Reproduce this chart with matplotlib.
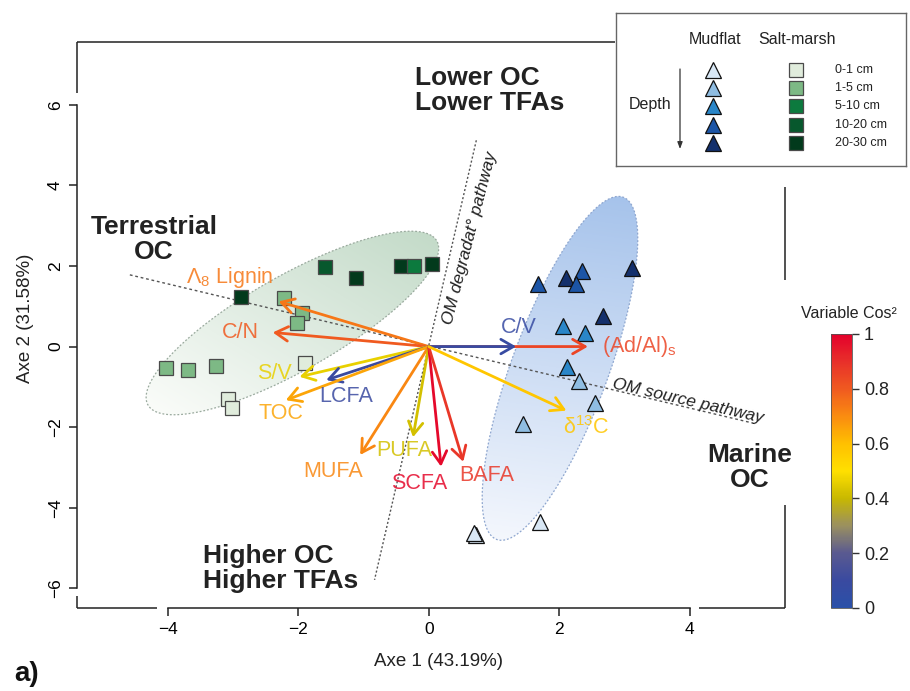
import numpy as np
import matplotlib
matplotlib.use("Agg")
import matplotlib.pyplot as plt
from matplotlib import font_manager
from matplotlib.colors import LinearSegmentedColormap, Normalize, to_rgb
from matplotlib.patches import Polygon, FancyArrowPatch
from matplotlib.cm import ScalarMappable

names = {f.name for f in font_manager.fontManager.ttflist}
narrow = "Liberation Sans Narrow" if "Liberation Sans Narrow" in names else "Liberation Sans"
plt.rcParams["font.family"] = ["Liberation Sans", "DejaVu Sans"]
plt.rcParams["mathtext.fontset"] = "custom"
plt.rcParams["mathtext.rm"] = "Liberation Sans"
plt.rcParams["mathtext.it"] = "Liberation Sans:italic"

# sample scores (mudflat = triangles, salt-marsh = squares), depth class index
depth_labels = ["0-1 cm", "1-5 cm", "5-10 cm", "10-20 cm", "20-30 cm"]
mud_x = [1.68, 2.10, 2.35, 2.26, 3.12, 2.67, 2.06, 2.39, 2.12, 2.31, 2.55, 1.44, 1.70, 0.73, 0.70]
mud_y = [1.55, 1.69, 1.88, 1.55, 1.94, 0.76, 0.52, 0.34, -0.50, -0.85, -1.41, -1.91, -4.35, -4.68, -4.64]
mud_depth = [3, 4, 3, 3, 4, 4, 2, 2, 2, 1, 1, 1, 0, 0, 0]
salt_x = [-2.87, -1.59, -1.12, -0.42, -0.23, 0.05, -2.22, -1.94, -2.02, -4.02, -3.69, -3.26, -1.90, -3.08, -3.02]
salt_y = [1.22, 1.98, 1.71, 2.00, 2.00, 2.06, 1.20, 0.84, 0.58, -0.53, -0.58, -0.48, -0.40, -1.29, -1.53]
salt_depth = [4, 3, 4, 4, 2, 4, 1, 1, 1, 1, 1, 1, 0, 0, 0]
mud_colors = ["#d8e7f5", "#8fbde2", "#2a86c8", "#1c55a6", "#14306c"]
salt_colors = ["#e0ecdc", "#7db985", "#0c7a3e", "#07582d", "#023a1c"]

# variable loadings, their cos2 and label positions
var_names = [r"$\mathregular{\Lambda_8}$ Lignin", "C/N", "S/V", "LCFA", "TOC", "MUFA", "PUFA",
             "SCFA", "BAFA", r"(Ad/Al)$\mathregular{_s}$", "C/V", r"$\mathregular{\delta^{13}}$C"]
var_x = [-2.30, -2.39, -1.98, -1.57, -2.19, -1.05, -0.24, 0.19, 0.53, 2.44, 1.34, 2.11]
var_y = [1.12, 0.35, -0.75, -0.83, -1.33, -2.69, -2.25, -2.98, -2.86, 0.0, 0.0, -1.59]
var_cos2 = [0.74, 0.80, 0.46, 0.10, 0.65, 0.71, 0.42, 0.98, 0.88, 0.85, 0.08, 0.58]
lab_x = [-3.05, -2.88, -2.36, -1.26, -2.27, -1.47, -0.38, -0.15, 0.89, 3.23, 1.38, 2.42]
lab_y = [1.72, 0.36, -0.66, -1.25, -1.67, -3.09, -2.59, -3.39, -3.19, 0.0, 0.48, -2.02]

cmap = LinearSegmentedColormap.from_list("cos2", [
    (0.0, "#2a50a8"), (0.1, "#3a4aa0"), (0.2, "#5a5a90"), (0.3, "#9a9060"),
    (0.4, "#c8b800"), (0.5, "#ffe000"), (0.6, "#ffc000"), (0.7, "#fa8c10"),
    (0.8, "#f05a20"), (0.9, "#e8302a"), (1.0, "#e4002b")])
norm = Normalize(0, 1)

fig = plt.figure(figsize=(9.1, 6.91), dpi=100)
ax = fig.add_axes([0.0846, 0.1201, 0.778, 0.8191])
xlim = (-5.39, 5.46)
ylim = (-6.49, 7.56)


def group_ellipse(xs, ys, dark, light, edge, k=1.78):
    xs, ys = np.asarray(xs), np.asarray(ys)
    mx, my = xs.mean(), ys.mean()
    vals, vecs = np.linalg.eigh(np.cov(xs, ys))
    v1 = vecs[:, 1] * np.sqrt(vals[1]) * k
    v2 = vecs[:, 0] * np.sqrt(vals[0]) * k
    if v1[1] < 0:
        v1 = -v1
    t = np.linspace(0, 2 * np.pi, 200)
    pts = np.column_stack([mx + v1[0] * np.cos(t) + v2[0] * np.sin(t),
                           my + v1[1] * np.cos(t) + v2[1] * np.sin(t)])
    poly = Polygon(pts, closed=True, facecolor="none", edgecolor=edge, lw=0.9,
                   linestyle=(0, (1.5, 1.5)), zorder=2)
    ax.add_patch(poly)
    x0, x1 = pts[:, 0].min(), pts[:, 0].max()
    y0, y1 = pts[:, 1].min(), pts[:, 1].max()
    gx, gy = np.meshgrid(np.linspace(x0, x1, 200), np.linspace(y0, y1, 200))
    proj = ((gx - mx) * v1[0] + (gy - my) * v1[1]) / (v1 @ v1)
    f = np.clip((proj + 1) / 2, 0, 1)[..., None]
    img = np.array(to_rgb(light)) * (1 - f) + np.array(to_rgb(dark)) * f
    im = ax.imshow(img, extent=(x0, x1, y0, y1), origin="lower", aspect="auto",
                   interpolation="bilinear", zorder=1)
    im.set_clip_path(poly)


group_ellipse(salt_x, salt_y, "#c4dbc9", "#fafcf9", "#9aaa9e")
group_ellipse(mud_x, mud_y, "#a6c3eb", "#f4f7fd", "#8ea6cf")

# interpretation axes
ax.plot([-4.58, 4.97], [1.78, -1.90], color="#555555", lw=1, ls=(0, (2, 2)), zorder=2)
ax.plot([0.73, -0.83], [5.12, -5.79], color="#555555", lw=1, ls=(0, (1.5, 1.5)), zorder=2)
ax.text(0.64, 2.69, "OM degradat° pathway", rotation=75.5, ha="center", va="center",
        fontsize=12.5, style="italic", color="#222222", rotation_mode="anchor")
ax.text(3.97, -1.35, "OM source pathway", rotation=-13, ha="center", va="center",
        fontsize=12.5, style="italic", color="#222222", rotation_mode="anchor")

# samples
for xs, ys, ds, cols, mk, ms, ec in [
        (salt_x, salt_y, salt_depth, salt_colors, "s", 10, "#4a4a4a"),
        (mud_x, mud_y, mud_depth, mud_colors, "^", 11.5, "#111111")]:
    for x, y, d in zip(xs, ys, ds):
        ax.plot(x, y, marker=mk, ms=ms, mfc=cols[d], mec=ec, mew=0.9, ls="none", zorder=3)

# variable arrows
for name, x, y, c2, lx, ly in zip(var_names, var_x, var_y, var_cos2, lab_x, lab_y):
    col = cmap(norm(c2))
    ax.add_patch(FancyArrowPatch((0, 0), (x, y), arrowstyle="->,head_length=0.45,head_width=0.26",
                                 mutation_scale=20, lw=2, color=col, shrinkA=0, shrinkB=0,
                                 zorder=4))
    ax.text(lx, ly, name, color=col, alpha=0.85, fontsize=15.5, ha="center", va="center", zorder=5)

# group annotations
bold = dict(fontsize=19, fontweight="bold", color="#222222", linespacing=1.05)
ax.text(-4.21, 2.65, "Terrestrial\nOC", ha="center", va="center", **bold)
ax.text(-0.21, 6.35, "Lower OC\nLower TFAs", ha="left", va="center", **bold)
ax.text(-3.46, -5.50, "Higher OC\nHigher TFAs", ha="left", va="center", **bold)
ax.text(4.92, -3.00, "Marine\nOC", ha="center", va="center", **bold)

ax.set_xlim(xlim)
ax.set_ylim(ylim)
ax.set_xticks([-4, -2, 0, 2, 4])
ax.set_yticks([-6, -4, -2, 0, 2, 4, 6])
for s in ["top", "right"]:
    ax.spines[s].set_visible(False)
ax.spines["left"].set_bounds(-6, 6)
ax.spines["bottom"].set_bounds(-4, 4)
for s in ["left", "bottom"]:
    ax.spines[s].set_linewidth(1.1)
    ax.spines[s].set_color("#222222")
ax.tick_params(length=6, width=1.1, color="#222222", labelsize=12.5, pad=4)
for lab in ax.get_xticklabels() + ax.get_yticklabels():
    lab.set_family(narrow)
for lab in ax.get_yticklabels():
    lab.set_rotation(90)
    lab.set_va("center")

# frame segments around the axes
frame = dict(color="#222222", lw=1.1, clip_on=False, zorder=6, solid_capstyle="butt")
ax.plot([xlim[0], xlim[0]], [6.29, ylim[1]], **frame)
ax.plot([xlim[0], xlim[0]], [ylim[0], -6.19], **frame)
ax.plot([xlim[0], -4.17], [ylim[0], ylim[0]], **frame)
ax.plot([4.15, xlim[1]], [ylim[0], ylim[0]], **frame)
ax.plot([xlim[1], xlim[1]], [ylim[0], -3.93], **frame)
ax.plot([xlim[1], xlim[1]], [1.65, 3.96], **frame)
ax.plot([xlim[0], 2.85], [ylim[1], ylim[1]], **frame)

fig.text(438 / 910, 1 - 662 / 691, "Axe 1 (43.19%)", ha="center", va="center",
         fontsize=13.5, family=narrow, color="#222222")
fig.text(25 / 910, 1 - 318 / 691, "Axe 2 (31.58%)", ha="center", va="center",
         rotation=90, fontsize=13.5, family=narrow, color="#222222")
fig.text(27 / 910, 1 - 674 / 691, "a)", ha="center", va="center", fontsize=20,
         fontweight="bold", color="#111111")

# colour scale for the variables
cax = fig.add_axes([831 / 910, 1 - 608 / 691, 21 / 910, 274 / 691])
cb = fig.colorbar(ScalarMappable(norm=norm, cmap=cmap), cax=cax)
cb.set_ticks([0, 0.2, 0.4, 0.6, 0.8, 1])
cb.set_ticklabels(["0", "0.2", "0.4", "0.6", "0.8", "1"])
cb.outline.set_linewidth(0.6)
cb.outline.set_edgecolor("#555555")
cax.tick_params(length=5, width=1, labelsize=13, color="#333333", labelcolor="#222222")
fig.text(849 / 910, 1 - 313 / 691, "Variable Cos²", ha="center", va="center",
         fontsize=11.5, color="#222222")

# key for sites and depths
lax = fig.add_axes([616 / 910, 1 - 166 / 691, 290 / 910, 153 / 691])
lax.set_xlim(0, 290)
lax.set_ylim(153, 0)
lax.set_xticks([])
lax.set_yticks([])
for s in lax.spines.values():
    s.set_color("#666666")
    s.set_linewidth(1)
lax.text(99, 26, "Mudflat", ha="center", va="center", fontsize=11.5, color="#222222")
lax.text(181, 26, "Salt-marsh", ha="center", va="center", fontsize=11.5, color="#222222")
lax.text(55, 92, "Depth", ha="right", va="center", fontsize=11.5, color="#222222")
lax.annotate("", xy=(64, 136), xytext=(64, 56),
             arrowprops=dict(arrowstyle="-|>,head_length=0.4,head_width=0.15",
                             color="#333333", lw=0.9, shrinkA=0, shrinkB=0))
for i, lab in enumerate(depth_labels):
    yy = 57 + 18.2 * i
    lax.plot(97, yy, marker="^", ms=11, mfc=mud_colors[i], mec="#111111", mew=0.9)
    lax.plot(180, yy, marker="s", ms=10, mfc=salt_colors[i], mec="#4a4a4a", mew=0.9)
    lax.text(219, yy, lab, ha="left", va="center", fontsize=9, color="#222222")

fig.savefig("out.png", dpi=100)
